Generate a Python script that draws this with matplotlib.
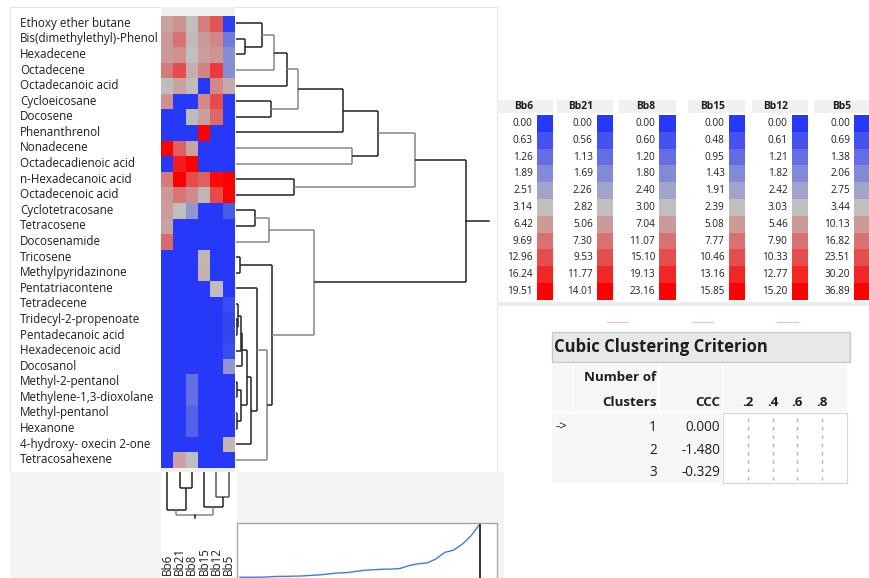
import numpy as np
import matplotlib
matplotlib.use("Agg")
import matplotlib.pyplot as plt
from matplotlib.colors import LinearSegmentedColormap, TwoSlopeNorm
from matplotlib.patches import Rectangle
import matplotlib.transforms as mtrans

W, H = 869, 578
plt.rcParams['font.family'] = ['Open Sans', 'DejaVu Sans']

# ---------------- data ----------------
compounds = ["Ethoxy ether butane", "Bis(dimethylethyl)-Phenol", "Hexadecene", "Octadecene",
             "Octadecanoic acid", "Cycloeicosane", "Docosene", "Phenanthrenol", "Nonadecene",
             "Octadecadienoic acid", "n-Hexadecanoic acid", "Octadecenoic acid", "Cyclotetracosane",
             "Tetracosene", "Docosenamide", "Tricosene", "Methylpyridazinone", "Pentatriacontene",
             "Tetradecene", "Tridecyl-2-propenoate", "Pentadecanoic acid", "Hexadecenoic acid",
             "Docosanol", "Methyl-2-pentanol", "Methylene-1,3-dioxolane", "Methyl-pentanol",
             "Hexanone", "4-hydroxy- oxecin 2-one", "Tetracosahexene"]
samples = ["Bb6", "Bb21", "Bb8", "Bb15", "Bb12", "Bb5"]

bb6 = [5.6, 6.4, 6.4, 8.9, 3.5, 7.2, 0, 0, 19.51, 0, 8.9, 6.4, 6.1, 5.6, 10.5,
       0, 0, 0, 0, 0, 0, 0, 0, 0, 0, 0, 0, 0, 0]
bb21 = [5.6, 7.3, 5.6, 9.5, 4.5, 0, 0, 0, 8.4, 12.3, 14.01, 7.1, 2.8, 0, 0,
        0, 0, 0, 0, 0, 0, 0, 0, 0, 0, 0, 0, 0, 4.5]
bb8 = [3.0, 3.6, 3.0, 5.0, 3.4, 0, 3.6, 0, 6.0, 23.16, 15.1, 8.6, 2.1, 0, 0,
       0, 0, 0, 0, 0, 0, 0, 0, 1.2, 1.2, 0.9, 0.9, 0, 3.0]
bb15 = [7.1, 5.1, 4.8, 6.7, 0, 6.2, 4.8, 15.85, 0, 0, 9.1, 3.2, 0, 0, 0,
        3.2, 3.5, 0, 0, 0, 0, 0, 0, 0, 0, 0, 0, 0, 0]
bb12 = [9.7, 6.7, 5.7, 11.5, 6.7, 10.3, 8.5, 0, 0, 0, 14.6, 10.6, 0, 0, 0,
        0, 0, 3.3, 0, 0, 0, 0, 0, 0, 0, 0, 0, 0, 0]
bb5 = [0.2, 1.7, 2.2, 2.2, 7.5, 0, 0, 0, 0, 0, 36.89, 36.5, 0.9, 0, 0,
       0, 0, 0, 0.5, 0.35, 0.35, 0.5, 2.4, 0, 0, 0, 0, 5.1, 0]

leg_bb6 = [0.00, 0.63, 1.26, 1.89, 2.51, 3.14, 6.42, 9.69, 12.96, 16.24, 19.51]
leg_bb21 = [0.00, 0.56, 1.13, 1.69, 2.26, 2.82, 5.06, 7.30, 9.53, 11.77, 14.01]
leg_bb8 = [0.00, 0.60, 1.20, 1.80, 2.40, 3.00, 7.04, 11.07, 15.10, 19.13, 23.16]
leg_bb15 = [0.00, 0.48, 0.95, 1.43, 1.91, 2.39, 5.08, 7.77, 10.46, 13.16, 15.85]
leg_bb12 = [0.00, 0.61, 1.21, 1.82, 2.42, 3.03, 5.46, 7.90, 10.33, 12.77, 15.20]
leg_bb5 = [0.00, 0.69, 1.38, 2.06, 2.75, 3.44, 10.13, 16.82, 23.51, 30.20, 36.89]

# row dendrogram merges: (child a, child b, joining distance); new nodes numbered from 29
row_merges = [(1, 2, 0.9), (0, 29, 2.57), (30, 3, 3.83), (31, 4, 5.07), (5, 6, 3.5),
              (32, 33, 6.17), (34, 7, 10.67), (8, 9, 11.63), (35, 36, 14.23), (10, 11, 5.83),
              (37, 38, 17.9), (12, 13, 1.9), (40, 14, 3.3), (15, 16, 0.43), (19, 20, 0.12),
              (18, 43, 0.2), (44, 21, 0.55), (45, 22, 0.65), (23, 24, 0.1), (25, 26, 0.1),
              (47, 48, 0.47), (46, 49, 1.13), (50, 27, 1.53), (17, 51, 2.07), (52, 28, 3.07),
              (42, 53, 3.57), (41, 54, 7.83), (39, 55, 23.0)]
# column dendrogram merges; new nodes numbered from 6
col_merges = [(1, 2, 1.57), (0, 6, 3.8), (4, 5, 2.53), (3, 8, 3.47), (7, 9, 4.3)]

ccc_clusters = [1, 2, 3]
ccc_values = [0.000, -1.480, -0.329]
ccc_ticks = [0.2, 0.4, 0.6, 0.8]

# ---------------- styles ----------------
DARK, LIGHT = '#222222', '#858585'
row_colors = [DARK, DARK, LIGHT, DARK, DARK, LIGHT, DARK, LIGHT, DARK, DARK, LIGHT,
              DARK, LIGHT, DARK, DARK, DARK, DARK, DARK, DARK, DARK, DARK, DARK, DARK,
              DARK, LIGHT, DARK, LIGHT, DARK]
col_colors = [DARK, DARK, '#555555', DARK, LIGHT]
cmap = LinearSegmentedColormap.from_list("bgr", ["#2638f8", "#c0c0c0", "#ff0000"])
TXT = '#1e1e1e'

fig = plt.figure(figsize=(W / 100, H / 100), dpi=100)


def px_axes(x0, y0, x1, y1, z=2):
    return fig.add_axes([x0 / W, 1 - y1 / H, (x1 - x0) / W, (y1 - y0) / H], zorder=z)


# background / annotation layer in pixel coordinates
bg = fig.add_axes([0, 0, 1, 1], zorder=0)
bg.set_xlim(0, W)
bg.set_ylim(H, 0)
bg.set_axis_off()
bg.add_patch(Rectangle((10, 7), 487, 465, fc='white', ec='#e4e4e4', lw=0.8))
bg.add_patch(Rectangle((10, 472), 494, 110, fc='#f4f4f4', ec='none'))
bg.add_patch(Rectangle((161, 7), 74, 465, fc='#efefef', ec='none'))
bg.add_patch(Rectangle((161, 472), 76, 110, fc='white', ec='none'))

# ---------------- heatmap ----------------
data = np.column_stack([bb6, bb21, bb8, bb15, bb12, bb5])
legends = [leg_bb6, leg_bb21, leg_bb8, leg_bb15, leg_bb12, leg_bb5]
norms = [TwoSlopeNorm(vmin=lv[0], vcenter=lv[5], vmax=lv[-1]) for lv in legends]
rgba = np.zeros(data.shape + (4,))
for j in range(data.shape[1]):
    rgba[:, j, :] = cmap(norms[j](data[:, j]))

axh = px_axes(161, 15.5, 235, 467.5)
axh.imshow(rgba, aspect='auto', interpolation='nearest')
axh.set_axis_off()
tr = mtrans.blended_transform_factory(fig.transFigure, axh.transData)
for i, name in enumerate(compounds):
    axh.text(20 / W, i, name, transform=tr, ha='left', va='center', fontsize=8.4,
             color=TXT, clip_on=False)


def draw_dendro(ax, n, merges, colors, vertical_leaves):
    pos = {i: float(i) for i in range(n)}
    hgt = {i: 0.0 for i in range(n)}
    for k, (a, b, h) in enumerate(merges):
        c = colors[k]
        segs = [[(hgt[a], pos[a]), (h, pos[a])], [(hgt[b], pos[b]), (h, pos[b])],
                [(h, pos[a]), (h, pos[b])]]
        for s in segs:
            xs = [p[0] for p in s]
            ys = [p[1] for p in s]
            if not vertical_leaves:
                xs, ys = ys, xs
            ax.plot(xs, ys, color=c, lw=1.1, solid_capstyle='butt', clip_on=False)
        node = n + k
        pos[node] = (pos[a] + pos[b]) / 2
        hgt[node] = h
    return pos, hgt


# row dendrogram (10 px per distance unit)
axr = px_axes(236, 15.5, 500, 467.5)
axr.set_xlim(0, 26.4)
axr.set_ylim(28.5, -0.5)
axr.set_axis_off()
pos, hgt = draw_dendro(axr, len(compounds), row_merges, row_colors, True)
root = len(compounds) + len(row_merges) - 1
axr.plot([hgt[root], hgt[root] + 2.3], [pos[root], pos[root]], color=DARK, lw=1.1)

# column dendrogram
axc = px_axes(161, 472, 235, 522)
axc.set_xlim(-0.5, 5.5)
axc.set_ylim(5.0, 0)
axc.set_axis_off()
cpos, chgt = draw_dendro(axc, len(samples), col_merges, col_colors, False)
croot = len(samples) + len(col_merges) - 1
axc.plot([cpos[croot], cpos[croot]], [chgt[croot], chgt[croot] + 0.33], color=DARK, lw=1.1)
trc = mtrans.blended_transform_factory(axc.transData, bg.transData)
for j, s in enumerate(samples):
    axc.text(j, 575, s, transform=trc, rotation=90, ha='center', va='bottom',
             fontsize=8.4, color=TXT, clip_on=False)

# distance graph
heights = sorted(m[2] for m in row_merges)
axd = px_axes(236.7, 523.3, 497, 640)
axd.set_facecolor('white')
axd.plot(range(len(heights)), heights, color='#3f7be0', lw=1.0, clip_on=False)
axd.axvline(len(heights) - 1, color='#222222', lw=1.3)
axd.set_xlim(-0.37, 28.88)
axd.set_ylim(-26.6, 23.05)
axd.set_xticks([])
axd.set_yticks([])
for sp in axd.spines.values():
    sp.set_color('#a8a8a8')
    sp.set_linewidth(1.0)

# ---------------- colour legends ----------------
value_right = [533.3, 593.3, 655.7, 725.0, 788.3, 850.7]
for j, s in enumerate(samples):
    vr = value_right[j]
    sl = vr + 3.5
    sr = sl + 16.5
    bg.add_patch(Rectangle((vr - 36.6, 100), sr - (vr - 36.6), 13, fc='#f0f0f0', ec='none'))
    bg.text(vr, 106.5, s, ha='right', va='center', fontsize=7.4, fontweight='bold', color=TXT)
    for i, v in enumerate(legends[j]):
        y0 = 115 + 16.8 * i
        bg.add_patch(Rectangle((sl, y0), sr - sl, 16.8, fc=cmap(norms[j](v)), ec='none'))
        bg.text(vr - 0.5, y0 + 8.4, f"{v:.2f}", ha='right', va='center', fontsize=7.2, color=TXT)
bg.add_patch(Rectangle((497, 302), 372, 4, fc='#ececec', ec='none'))
for x0 in (607, 692, 777):
    bg.plot([x0, x0 + 21], [321.7, 321.7], color='#f2c4c4', lw=1.0)

# ---------------- cubic clustering criterion table ----------------
bg.add_patch(Rectangle((551.7, 331.7), 298.3, 30, fc='#e8e8e8', ec='#c9c9c9', lw=1.0))
bg.text(554, 347, "Cubic Clustering Criterion", ha='left', va='center', fontsize=12,
        fontweight='bold', color=TXT)
for x0, x1 in [(551.7, 573.3), (574.3, 658.3), (660, 722), (723.3, 846.7)]:
    bg.add_patch(Rectangle((x0, 364), x1 - x0, 48, fc='#f6f6f6', ec='none'))
bg.add_patch(Rectangle((551.7, 413.3), 170.3, 70, fc='#f7f7f7', ec='none'))
bg.text(656.7, 377.5, "Number of", ha='right', va='center', fontsize=9.6, fontweight='bold', color=TXT)
bg.text(656.7, 402, "Clusters", ha='right', va='center', fontsize=9.6, fontweight='bold', color=TXT)
bg.text(720, 402, "CCC", ha='right', va='center', fontsize=9.6, fontweight='bold', color=TXT)

axb = px_axes(723.3, 413.3, 846.7, 483.3)
axb.set_facecolor('white')
axb.set_xlim(0, 1)
axb.set_ylim(len(ccc_values) - 0.5, -0.5)
axb.barh(range(len(ccc_values)), [max(v, 0) for v in ccc_values], color='#3f7be0', height=0.6)
for t in ccc_ticks:
    axb.axvline(t, ymin=0.05, ymax=0.95, color='#b4b4b4', lw=1.0, linestyle=(0, (2.5, 3.5)))
axb.set_xticks([])
axb.set_yticks([])
for sp in axb.spines.values():
    sp.set_color('#d6d6d6')
trb = mtrans.blended_transform_factory(axb.transData, bg.transData)
for t in ccc_ticks:
    axb.text(t, 402, f"{t:.1f}".lstrip('0'), transform=trb, ha='center', va='center',
             fontsize=9.6, fontweight='bold', color=TXT, clip_on=False)
for i, (k, v) in enumerate(zip(ccc_clusters, ccc_values)):
    y = 427.5 + 22.5 * i
    if i == 0:
        bg.text(555, y, "->", ha='left', va='center', fontsize=9.6, color=TXT)
    bg.text(656.7, y, str(k), ha='right', va='center', fontsize=9.8, color=TXT)
    bg.text(720, y, f"{v:.3f}", ha='right', va='center', fontsize=9.8, color=TXT)

fig.savefig("out.png", dpi=100)
